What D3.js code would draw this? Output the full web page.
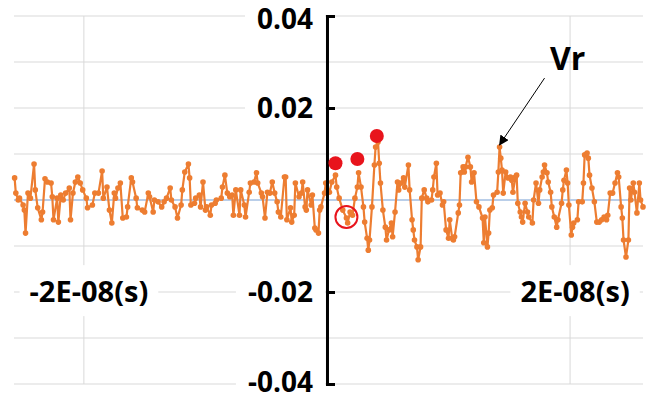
<!DOCTYPE html>
<html>
<head>
<meta charset="utf-8">
<script src="https://cdn.jsdelivr.net/npm/d3@7"></script>
<style>
  html, body { margin: 0; padding: 0; background: #fff; overflow: hidden; }
  text { font-family: "Open Sans", "Noto Sans", sans-serif; font-weight: 700; fill: #000; }
</style>
</head>
<body>
<div id="chart"></div>
<script>
// time in ns, voltage in mV
const timeNs = [
  -25.7, -25.6, -25.4, -25.3, -25.0, -24.9, -24.8, -24.6, -24.4, -24.1, -24.0, -23.8, -23.5, -23.4, -23.2, -23.0,
  -22.7, -22.6, -22.5, -22.2, -22.1, -21.9, -21.7, -21.5, -21.2, -21.1, -20.9, -20.7, -20.5, -20.3, -20.1, -19.8,
  -19.7, -19.3, -19.1, -18.8, -18.5, -18.4, -18.1, -17.9, -17.7, -17.5, -17.4, -17.2, -17.0, -16.8, -16.5, -16.4,
  -16.1, -16.0, -15.7, -15.6, -15.2, -15.0, -14.7, -14.6, -14.3, -14.2, -13.9, -13.6, -13.4, -13.2,
  -12.9, -12.8, -12.5, -12.3, -12.0, -11.9, -11.7, -11.4, -11.3, -11.2, -10.9, -10.8, -10.5, -10.4, -10.2, -10.0,
  -9.9, -9.6, -9.5, -9.2, -9.1, -8.7, -8.6, -8.4, -8.2, -8.0, -7.8, -7.7, -7.5, -7.2, -7.1, -6.8,
  -6.7, -6.4, -6.3, -6.0, -5.8, -5.7, -5.4, -5.3, -5.1, -4.9, -4.7, -4.5, -4.3, -4.1, -4.0, -3.8,
  -3.5, -3.4, -3.3, -3.0, -2.9, -2.7, -2.6, -2.3, -2.1, -2.0, -1.8, -1.7, -1.6, -1.3, -1.2, -1.0,
  -0.9, -0.7, -0.6, -0.5, -0.2, -0.1,
  0.2, 0.4, 0.7, 0.8, 1.0, 1.3, 1.6, 1.7, 1.9, 2.1, 2.3, 2.5, 2.6, 2.8, 3.0, 3.1,
  3.3, 3.4, 3.5, 3.7, 3.9, 4.0, 4.2, 4.3, 4.4, 4.6, 4.8, 4.9, 5.1, 5.3, 5.4, 5.6,
  5.8, 5.9, 6.1, 6.3, 6.4, 6.7, 6.8, 7.0, 7.1, 7.2, 7.4, 7.5, 7.7, 7.8, 8.0, 8.2,
  8.3, 8.6, 8.7, 8.8, 9.0, 9.1, 9.3, 9.5, 9.6, 9.8, 10.0, 10.1, 10.3, 10.4, 10.5, 10.8,
  10.9, 11.0, 11.2, 11.3, 11.4, 11.6, 11.8, 11.9, 12.1, 12.3, 12.5, 12.8, 12.9,
  13.0, 13.2, 13.3, 13.4, 13.6, 13.7, 14.0, 14.1, 14.2, 14.3, 14.4, 14.5, 14.7, 14.9, 15.1, 15.2,
  15.3, 15.5, 15.6, 15.7, 15.9, 16.0, 16.1, 16.3, 16.5, 16.6, 16.9, 17.0, 17.2, 17.4, 17.5, 17.7,
  17.8, 17.9, 18.1, 18.2, 18.4, 18.5, 18.7, 18.9, 19.0, 19.3, 19.4, 19.5, 19.7, 19.8, 19.9, 20.1,
  20.2, 20.3, 20.6, 20.7, 21.0, 21.1, 21.2, 21.4, 21.5, 21.6, 21.8, 22.0, 22.2, 22.4, 22.6, 22.8,
  23.0, 23.1, 23.3, 23.5, 23.7, 23.9, 24.0, 24.2, 24.3, 24.4, 24.6, 24.8, 24.9, 25.0, 25.2, 25.3,
  25.5, 25.7, 25.8, 26.0
];
const voltMv = [
  4.8, 1.5, 0, 0.4, -1.1, -2.2, -7.2, 1.5, 0.4, 7.8, 2.2, -1.7, -4.3, -2.6, 4.6, 3.9,
  3.7, 0.7, -4.3, 0.4, -4.8, 1.1, 0, 1.5, 2.6, -4.3, 1.5, 3.9, 5.0, 3.7, 2.2, 0.4,
  -1.7, -1.1, 1.5, 1.5, 6.3, 0.4, 2.8, -2.2, -5.0, 1.5, 0.4, 2.6, 3.7, -3.9, -3.7, -1.5,
  4.8, 3.9, 0.4, -1.7, -2.2, -2.6, 1.5, 0.7, -2.6, 0, -0.4, -1.5, -0.4, 0.4,
  2.6, 0, -1.5, -3.9, -1.1, 2.2, 6.1, 7.8, 4.8, -1.1, -0.7, 0.4, 1.1, -1.5, 3.9, -2.2,
  -1.5, -3.3, -1.1, -0.7, 0, 0.4, 2.8, 5.4, 1.5, 0.7, 1.1, -3.3, 2.2, -3.3, 2.2, -1.1,
  -3.7, 1.7, 3.7, 3.9, 5.9, 3.7, 1.5, 0.7, -3.9, 1.7, 1.5, 3.9, 1.5, -0.4, -2.6, -3.7,
  5.0, 5.0, -4.3, -1.7, -4.8, -3.3, 3.7, 0.7, 1.5, 3.9, -1.5, -2.2, 2.2, -1.1, 1.1, -6.1,
  -6.5, -7.2, -2.2, -1.5, 1.5, 3.7,
  1.7, 3.9, 5.4, 2.8, 0.4, -2.2, -3.9, -5.0, -2.6, -3.3, 0.4, 2.8, 5.9, 2.8, -1.5, -4.8,
  -8.3, -10.9, -8.7, -1.5, 7.6, 11.5, 12.6, 8.0, 3.7, -2.2, -5.9, -8.7, -6.5, -5.0, -8.0, -2.6,
  3.9, 2.2, 3.7, 4.8, 2.8, 7.6, 2.2, -4.3, -6.5, -8.7, -10.2, -13.0, -10.2, 0.4, 2.2, 0.4,
  -0.4, 0, 2.2, 5.0, 8.0, 1.1, 1.5, -1.1, -0.4, -6.5, -8.3, -4.3, -8.3, -8.7, -8.0, -2.8,
  -1.1, 5.9, 7.2, 6.1, 7.2, 9.3, 7.2, 3.9, 5.9, -0.4, -1.5, -3.9, -9.3,
  -3.7, -10.2, -7.2, -2.2, -1.7, 1.1, 1.7, 6.1, 11.5, 9.1, 6.5, 1.5, 6.1, 4.8, 5.0, 4.3,
  1.7, 5.0, 5.4, -0.7, -2.6, -3.7, -4.8, -0.7, -2.6, -3.7, -5.0, 0, 3.7, -0.7, 2.2, 5.0,
  6.1, 7.6, 5.9, 3.9, 1.7, -1.5, -3.7, -5.9, -4.3, -0.7, 2.2, 4.3, 6.5, 3.7, -1.1, -7.6,
  -5.9, -5.0, -4.3, -0.4, -0.4, 3.7, 9.8, 10.2, 9.1, 5.4, 2.6, -0.4, -4.8, -4.8, -4.3, -3.7,
  -4.3, -3.3, 1.5, 1.5, 3.7, 5.9, 5.0, -1.5, -3.9, -8.7, -12.4, -8.7, 2.6, 0, 3.7, 1.7,
  -2.8, 3.7, 0, -1.5
];
// second (flat) trace lying on zero
const baseTimeNs = [-25.75, 26];
const baseVoltMv = [0, 0];

const gridMv = [-40, -30, -20, -10, 0, 10, 20, 30, 40];
const gridNs = [-20, 0, 20];
const yTickMv = [40, 20, -20, -40];
const yTickLabels = ['0.04', '0.02', '-0.02', '-0.04'];
const xTickNs = [-20, 20];
const xTickLabels = ['-2E-08(s)', '2E-08(s)'];

// highlighted points
const dotNs = [0.7, 2.5, 4.1];
const dotMv = [8.0, 8.9, 13.9];
const ringNs = [1.6];
const ringMv = [-3.7];

const width = 653, height = 393;
const orange = '#ed7d31';

const svg = d3.select('#chart').append('svg')
  .attr('width', width)
  .attr('height', height);

const x = d3.scaleLinear().domain([-25.75, 26]).range([14, 643]);
const y = d3.scaleLinear().domain([-40, 40]).range([384, 16]);

// grid
svg.append('g').selectAll('line.h')
  .data(gridMv).enter().append('line')
  .attr('x1', x.range()[0]).attr('x2', x.range()[1])
  .attr('y1', d => y(d)).attr('y2', d => y(d))
  .attr('stroke', '#d9d9d9').attr('stroke-width', 1);
svg.append('g').selectAll('line.v')
  .data(gridNs).enter().append('line')
  .attr('x1', d => x(d)).attr('x2', d => x(d))
  .attr('y1', y(40)).attr('y2', y(-40))
  .attr('stroke', '#d9d9d9').attr('stroke-width', 1);

// labels with white boxes over the grid
function boxedLabel(g, str, px, py, anchor, padX, padY) {
  const t = g.append('text')
    .attr('x', px).attr('y', py)
    .attr('dy', '0.35em')
    .attr('text-anchor', anchor)
    .text(str);
  const bb = t.node().getBBox();
  g.insert('rect', 'text')
    .attr('x', bb.x - padX[0]).attr('y', bb.y - padY)
    .attr('width', bb.width + padX[0] + padX[1])
    .attr('height', bb.height + 2 * padY)
    .attr('fill', '#fff');
  return t;
}

const yLab = svg.append('g').style('font-size', '28px');
yTickMv.forEach((v, i) => {
  const g = yLab.append('g');
  boxedLabel(g, yTickLabels[i], x(0) - 14, y(v) + (i === 0 ? 3 : 0) - (i === 3 ? 2 : 0), 'end', [12, 12], 0);
});

const xLab = svg.append('g').style('font-size', '29px');
xTickNs.forEach((t, i) => {
  const g = xLab.append('g');
  boxedLabel(g, xTickLabels[i], x(t) + 5, y(-20), 'middle', [10, 10], 6);
});

// traces
const line = d3.line().x(d => x(d[0])).y(d => y(d[1]));
const baseData = baseTimeNs.map((t, i) => [t, baseVoltMv[i]]);
svg.append('path')
  .datum(baseData)
  .attr('d', line)
  .attr('fill', 'none')
  .attr('stroke', '#a9c5e8')
  .attr('stroke-width', 1.5);

const data = timeNs.map((t, i) => [t, voltMv[i]]);
svg.append('path')
  .datum(data)
  .attr('d', line)
  .attr('fill', 'none')
  .attr('stroke', orange)
  .attr('stroke-width', 2.2)
  .attr('stroke-linejoin', 'round');
svg.append('g').selectAll('circle')
  .data(data).enter().append('circle')
  .attr('cx', d => x(d[0])).attr('cy', d => y(d[1]))
  .attr('r', 2.8)
  .attr('fill', orange);

// y axis through t = 0
const yAxis = d3.axisRight(y)
  .tickValues(yTickMv)
  .tickSize(8)
  .tickSizeOuter(8)
  .tickFormat('');
const ax = svg.append('g')
  .attr('transform', `translate(${x(0)},0)`)
  .call(yAxis);
ax.selectAll('path, line').attr('stroke', '#000').attr('stroke-width', 3);

// red markers
svg.append('g').selectAll('circle')
  .data(dotNs).enter().append('circle')
  .attr('cx', d => x(d)).attr('cy', (d, i) => y(dotMv[i]))
  .attr('r', 7)
  .attr('fill', '#e8141c');
svg.append('g').selectAll('circle')
  .data(ringNs).enter().append('circle')
  .attr('cx', d => x(d)).attr('cy', (d, i) => y(ringMv[i]))
  .attr('r', 11)
  .attr('fill', 'none')
  .attr('stroke', '#e8141c')
  .attr('stroke-width', 2);

// Vr annotation
svg.append('defs').append('marker')
  .attr('id', 'arrow')
  .attr('viewBox', '0 0 10 10')
  .attr('refX', 9).attr('refY', 5)
  .attr('markerWidth', 10).attr('markerHeight', 10)
  .attr('markerUnits', 'userSpaceOnUse')
  .attr('orient', 'auto')
  .append('path')
  .attr('d', 'M0,0L10,5L0,10Z')
  .attr('fill', '#000');
svg.append('line')
  .attr('x1', x(17.9)).attr('y1', y(26.5))
  .attr('x2', x(14.2)).attr('y2', y(12.0))
  .attr('stroke', '#000')
  .attr('stroke-width', 1)
  .attr('marker-end', 'url(#arrow)');
svg.append('text')
  .attr('x', x(19.8)).attr('y', y(28.3))
  .attr('text-anchor', 'middle')
  .style('font-size', '32px')
  .text('Vr');
</script>
</body>
</html>
